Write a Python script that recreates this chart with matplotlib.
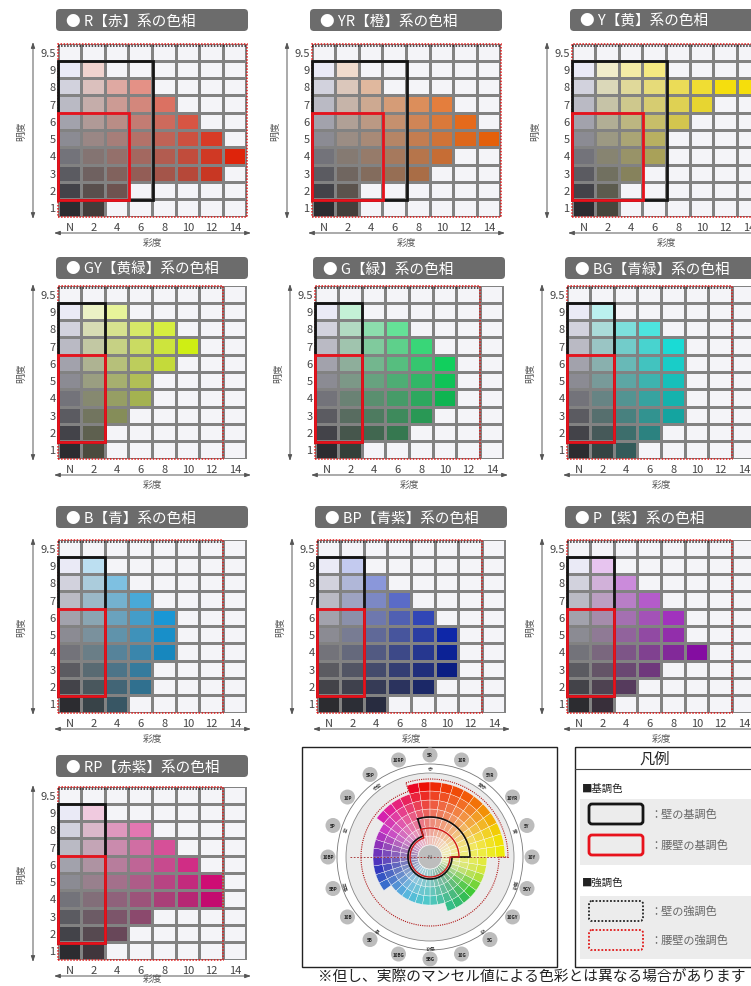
import colorsys
import numpy as np
import matplotlib
matplotlib.use('Agg')
import matplotlib.pyplot as plt
from matplotlib.patches import Rectangle, FancyBboxPatch, Wedge, Circle

plt.rcParams['font.family'] = ['Noto Sans CJK JP', 'DejaVu Sans']

# ---------------- data ----------------
hue_codes = ['R', 'YR', 'Y', 'GY', 'G', 'BG', 'B', 'BP', 'P', 'RP']
hue_names = ['赤', '橙', '黄', '黄緑', '緑', '青緑', '青', '青紫', '紫', '赤紫']
wheel_names = ['赤', '黄赤', '黄', '黄緑', '緑', '青緑', '青', '青紫', '紫', '赤紫']
chroma_labels = ['N', '2', '4', '6', '8', '10', '12', '14']
value_labels = ['1', '2', '3', '4', '5', '6', '7', '8', '9', '9.5']

# highest chroma shown for value 1..9
max_chroma_R = [2, 4, 12, 14, 12, 10, 8, 6, 2]
max_chroma_YR = [2, 2, 8, 10, 14, 12, 10, 4, 2]
max_chroma_Y = [2, 2, 4, 6, 6, 8, 10, 14, 6]
max_chroma_GY = [2, 2, 4, 6, 6, 8, 10, 8, 4]
max_chroma_G = [2, 6, 8, 10, 10, 10, 8, 6, 2]
max_chroma_BG = [4, 6, 8, 8, 8, 8, 8, 6, 2]
max_chroma_B = [4, 6, 6, 8, 8, 8, 6, 4, 2]
max_chroma_BP = [4, 8, 10, 10, 10, 8, 6, 4, 2]
max_chroma_P = [2, 4, 6, 10, 8, 8, 6, 4, 2]
max_chroma_RP = [2, 4, 6, 12, 12, 10, 8, 6, 2]
max_chroma = [max_chroma_R, max_chroma_YR, max_chroma_Y, max_chroma_GY, max_chroma_G,
              max_chroma_BG, max_chroma_B, max_chroma_BP, max_chroma_P, max_chroma_RP]

wall_base_chroma = [6, 6, 6, 2, 2, 2, 2, 2, 2, 2]
wall_base_values = (2, 9)
skirting_base_chroma = [4, 4, 4, 2, 2, 2, 2, 2, 2, 2]
skirting_base_values = (2, 6)
accent_chroma = [14, 14, 14, 12, 12, 12, 12, 12, 12, 12]

legend_title = '凡例'
footnote = '※但し、実際のマンセル値による色彩とは異なる場合があります'

# ---------------- style ----------------
hue_hsv = [0.02, 0.065, 0.150, 0.190, 0.400, 0.495, 0.555, 0.640, 0.800, 0.910]
full_chroma = [16, 15, 14, 12, 12, 10, 10, 12, 12, 14]
lift = [0.8, 0.8, 0.8, 0.8, 0.5, 0.5, 0.6, 0.25, 0.35, 0.6]

W, H = 751, 987
grid_pos = [(58, 45), (312, 45), (572, 45), (58, 287), (315, 287), (567, 287),
            (58, 541), (317, 541), (567, 541), (58, 788)]
title_top = [10, 10, 10, 258, 258, 258, 507, 507, 507, 756]
GW, GH = 189, 173


def gray_level(v):
    return 0.08 + 0.095 * v


def cell_color(hi, v, c):
    g = gray_level(v)
    if c == 0:
        return (g * 0.98, g * 0.98, min(1.0, g * 1.02 + 0.01))
    s = min(0.95, 1.1 * c / full_chroma[hi])
    val = min(1.0, g + (1 - g) * lift[hi] * s)
    return colorsys.hsv_to_rgb(hue_hsv[hi], s, val)


fig = plt.figure(figsize=(W / 100, H / 100), dpi=100)
fig.patch.set_facecolor('white')
ax0 = fig.add_axes([0, 0, 1, 1])
ax0.set_xlim(0, W)
ax0.set_ylim(H, 0)
ax0.axis('off')

arrow_kw = dict(arrowstyle='<|-|>,head_length=0.35,head_width=0.12', color='#555555',
                lw=0.7, shrinkA=0, shrinkB=0)

for i, code in enumerate(hue_codes):
    gl, gt = grid_pos[i]
    # title bar
    ax0.add_patch(FancyBboxPatch((gl - 2, title_top[i]), GW + 3, 22,
                                 boxstyle='round,pad=0,rounding_size=4',
                                 fc='#6c6c6c', ec='none'))
    ax0.text(gl + 8, title_top[i] + 11.5, f'● {code}【{hue_names[i]}】系の色相',
             color='white', fontsize=10.5, va='center', ha='left')
    # axis arrows and labels
    ax0.annotate('', xy=(gl - 25, gt - 2), xytext=(gl - 25, gt + GH + 2), arrowprops=arrow_kw)
    ax0.annotate('', xy=(gl - 4, gt + GH + 16), xytext=(gl + GW + 4, gt + GH + 16),
                 arrowprops=arrow_kw)
    ax0.text(gl - 37, gt + GH / 2, '明度', rotation=90, fontsize=7, color='#555555',
             ha='center', va='center')
    ax0.text(gl + GW / 2, min(gt + GH + 25, 979), '彩度', fontsize=7, color='#555555',
             ha='center', va='center')

    ax = fig.add_axes([gl / W, 1 - (gt + GH) / H, GW / W, GH / H])
    ax.set_xlim(-0.5, 7.5)
    ax.set_ylim(0.5, 10.5)
    ax.axis('off')
    ax.add_patch(Rectangle((-0.5, 0.5), 8, 10, fc='#828282', ec='none'))
    mc = max_chroma[i]
    for col in range(len(chroma_labels)):
        c = 2 * col
        for row in range(1, len(value_labels) + 1):
            if row <= 9 and c <= mc[row - 1]:
                fc = cell_color(i, row, c)
            else:
                fc = '#f4f4f8'
            ax.add_patch(Rectangle((col - 0.5 + 0.065, row - 0.5 + 0.085), 0.87, 0.83,
                                   fc=fc, ec='none'))
    wc, sc, ac = wall_base_chroma[i], skirting_base_chroma[i], accent_chroma[i]
    ax.add_patch(Rectangle((-0.5, 0.5), ac / 2 + 1, 10, fill=False, ec='#e01818', lw=1.1,
                           ls=(0, (1, 1)), clip_on=False, zorder=4))
    ax.plot([-0.5, ac / 2 + 0.5], [10.4, 10.4], color='#222222', lw=1.1, ls=(0, (1, 1)),
            clip_on=False, zorder=4)
    ax.add_patch(Rectangle((-0.5, wall_base_values[0] - 0.5), wc / 2 + 1,
                           wall_base_values[1] - wall_base_values[0] + 1,
                           fill=False, ec='#151515', lw=2.0, clip_on=False, zorder=5))
    ax.add_patch(Rectangle((-0.5, skirting_base_values[0] - 0.5), sc / 2 + 1,
                           skirting_base_values[1] - skirting_base_values[0] + 1,
                           fill=False, ec='#e8121c', lw=2.0, clip_on=False, zorder=6))
    for row, vl in enumerate(value_labels, start=1):
        ax.text(-0.6, row, vl, ha='right', va='center', fontsize=8, color='#444444')
    for col, cl in enumerate(chroma_labels):
        ax.text(col, -0.05, cl, ha='center', va='center', fontsize=8, color='#444444')

# ---------------- colour wheel ----------------
ax0.add_patch(Rectangle((302, 748), 255, 220, fill=False, ec='#222222', lw=1.0))
axw = fig.add_axes([302 / W, 1 - 968 / H, 255 / W, 220 / H])
axw.set_xlim(-128, 127)
axw.set_ylim(-110, 110)
axw.axis('off')

R0, DR = 12, 4.5


def rad(c):
    return R0 + c * DR


anchors = [0.02 - 1 + 1, 0.065, 0.15, 0.19, 0.40, 0.495, 0.555, 0.64, 0.80, 0.91, 1.02]
wheel_v = [0.93, 0.95, 0.95, 0.9, 0.72, 0.78, 0.88, 0.75, 0.72, 0.9, 0.93]
axw.add_patch(Circle((0, 0), 93, fc='white', ec='#777777', lw=0.6))
axw.add_patch(Circle((0, 0), 84, fc='#ebebeb', ec='#888888', lw=0.6))
for i in range(10):
    cmax = max(max_chroma[i])
    for j in range(4):
        th_hi = 90 - 36 * i + 18 - 9 * j
        p = i + (j - 1.5) / 4
        if p < 0:
            p += 10
        h = np.interp(p, range(11), anchors) % 1.0
        vb = np.interp(p, range(11), wheel_v)
        for k in range(1, cmax // 2 + 1):
            s = 0.12 + 0.85 * (2 * k / 14)
            col = colorsys.hsv_to_rgb(h, min(s, 1), vb)
            axw.add_patch(Wedge((0, 0), rad(2 * k), th_hi - 9, th_hi,
                                width=rad(2 * k) - rad(2 * k - 2), fc=col,
                                ec='white', lw=0.25))
axw.add_patch(Circle((0, 0), R0, fc='#bdbdbd', ec='white', lw=0.4))
axw.text(0, 0, 'N', fontsize=4, ha='center', va='center', color='#555555')


def outline(lims, offset=0.0):
    xs, ys = [], []
    for i in range(10):
        th = np.radians(np.linspace(90 - 36 * i + 18, 90 - 36 * i - 18, 12))
        r = rad(lims[i]) + offset
        xs.extend(r * np.cos(th))
        ys.extend(r * np.sin(th))
    xs.append(xs[0])
    ys.append(ys[0])
    return xs, ys


x_, y_ = outline(accent_chroma, 3)
axw.plot(x_, y_, color='#b01818', lw=0.8, ls=(0, (1, 1)))
axw.plot([-80, 80], [0, 0], color='#a02020', lw=0.6, ls=(0, (2, 2)))
x_, y_ = outline(wall_base_chroma, 1)
axw.plot(x_, y_, color='#111111', lw=1.2)
x_, y_ = outline(skirting_base_chroma, -1)
axw.plot(x_, y_, color='#d01818', lw=1.0)

for i in range(10):
    th = np.radians(90 - 36 * i)
    axw.text(88.5 * np.cos(th), 88.5 * np.sin(th), wheel_names[i], fontsize=3.5,
             ha='center', va='center', rotation=np.degrees(th) - 90, color='#333333')
for k in range(20):
    th = np.radians(90 - 18 * k)
    lab = ('5' if k % 2 == 0 else '10') + hue_codes[k // 2]
    cx, cy = 102 * np.cos(th), 102 * np.sin(th)
    axw.add_patch(Circle((cx, cy), 7.5, fc='#bcbcbc', ec='none'))
    axw.text(cx, cy, lab, fontsize=3.3, ha='center', va='center', color='#222222',
             fontweight='bold')

# ---------------- legend ----------------
ax0.add_patch(Rectangle((575, 748), 200, 220, fill=False, ec='#222222', lw=1.0, clip_on=False))
ax0.plot([575, 751], [770, 770], color='#444444', lw=0.8)
ax0.text(655, 759.5, legend_title, fontsize=11, ha='center', va='center', color='#222222')
ax0.add_patch(Rectangle((580, 800), 175, 66, fc='#ececec', ec='none'))
ax0.add_patch(Rectangle((580, 897), 175, 63, fc='#ececec', ec='none'))
ax0.text(582, 789, '■基調色', fontsize=7.5, ha='left', va='center', color='#222222')
ax0.text(582, 883, '■強調色', fontsize=7.5, ha='left', va='center', color='#222222')
legend_items = [
    (815, '#151515', '-', 2.0, '：壁の基調色'),
    (846, '#e8121c', '-', 2.0, '：腰壁の基調色'),
    (912, '#222222', (0, (1, 1)), 1.3, '：壁の強調色'),
    (941, '#e01818', (0, (1, 1)), 1.3, '：腰壁の強調色'),
]
for yc, ec, ls, lw, lab in legend_items:
    ax0.add_patch(FancyBboxPatch((589, yc - 10), 54, 20, boxstyle='round,pad=0,rounding_size=3',
                                 fc='#ececec', ec=ec, lw=lw, ls=ls))
    ax0.text(650, yc, lab, fontsize=8, ha='left', va='center', color='#666666')

ax0.text(318, 978, footnote, fontsize=10.6, ha='left', va='center', color='#222222')

fig.savefig('out.png', dpi=100, facecolor='white')
